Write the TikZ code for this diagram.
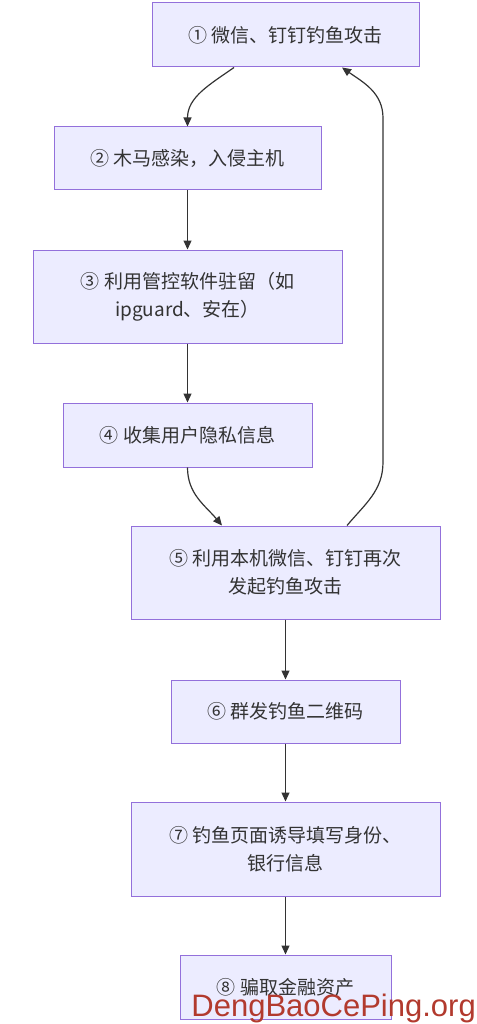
\documentclass[tikz,border=0pt]{standalone}
\usepackage{fontspec}
\newfontfamily\cjk{Noto Sans CJK SC}
\newfontfamily\wmfont{Liberation Sans}
\usetikzlibrary{arrows.meta}
\definecolor{boxfill}{HTML}{ECECFF}
\definecolor{boxline}{HTML}{9370DB}
\definecolor{ink}{HTML}{333333}
\definecolor{wmred}{HTML}{B23A2E}

\begin{document}
\begin{tikzpicture}[x=1pt, y=-1pt,
    box/.style={draw=boxline, fill=boxfill, line width=1pt, inner sep=0pt, align=center,
        text=ink, font=\cjk\fontsize{19}{28}\selectfont},
    flow/.style={draw=ink, line width=1.2pt, ->},
    >={Triangle[length=9pt,width=8pt]}]
    \useasboundingbox (0,0) rectangle (476,1024);

    \node[box, minimum width=267pt, minimum height=64pt] (s1) at (285.5,35) {① 微信、钉钉钓鱼攻击};
    \node[box, minimum width=267pt, minimum height=63pt] (s2) at (187.5,158.5) {② 木马感染，入侵主机};
    \node[box, minimum width=309pt, minimum height=93pt] (s3) at (187.5,296.5) {③ 利用管控软件驻留（如\\ipguard、安在）};
    \node[box, minimum width=249pt, minimum height=64pt] (s4) at (187.5,435) {④ 收集用户隐私信息};
    \node[box, minimum width=309pt, minimum height=93pt] (s5) at (285.5,572.5) {⑤ 利用本机微信、钉钉再次\\发起钓鱼攻击};
    \node[box, minimum width=229pt, minimum height=63pt] (s6) at (285.5,711.5) {⑥ 群发钓鱼二维码};
    \node[box, minimum width=309pt, minimum height=94pt] (s7) at (285.5,849) {⑦ 钓鱼页面诱导填写身份、\\银行信息};
    \node[box, minimum width=211pt, minimum height=64pt] (s8) at (285.5,987) {⑧ 骗取金融资产};

    \coordinate (r1) at (383,462);
    \coordinate (r2) at (383,118);

    \draw[flow] (s1.south -| 234,0) to[out=-145, in=90] (s2.north);
    \draw[flow] (s2) -- (s3);
    \draw[flow] (s3) -- (s4);
    \draw[flow] (s4.south) to[out=-90, in=130] (s5.north -| 222,0);
    \draw[flow] (s5.north -| 347,0) to[out=50, in=-90] (r1) -- (r2) to[out=90, in=-35] (s1.south -| 342,0);
    \draw[flow] (s5) -- (s6);
    \draw[flow] (s6) -- (s7);
    \draw[flow] (s7) -- (s8);

    \node[anchor=base east, inner sep=0pt, text=wmred, font=\wmfont\fontsize{31}{31}\selectfont] (wm) at (476,1016) {DengBaoCePing.org};
\end{tikzpicture}
\end{document}
